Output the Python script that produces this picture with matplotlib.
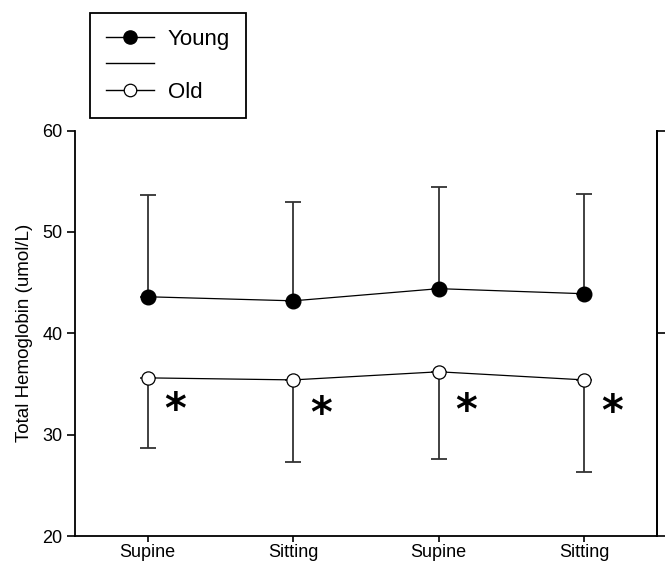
import numpy as np
import matplotlib.pyplot as plt
from matplotlib.lines import Line2D

plt.rcParams['font.family'] = ['Liberation Sans', 'DejaVu Sans']

categories = ['Supine', 'Sitting', 'Supine', 'Sitting']
young = [43.6, 43.2, 44.4, 43.9]
young_err = [10.0, 9.7, 10.0, 9.8]
old = [35.6, 35.4, 36.2, 35.4]
old_err = [6.9, 8.1, 8.6, 9.1]
star_y = [32.3, 31.9, 32.2, 32.1]

x = np.arange(1, len(categories) + 1)

fig = plt.figure(figsize=(6.68, 5.65), dpi=100)
ax = fig.add_axes([0.1123, 0.0513, 0.8712, 0.7177])

ecol = '#333333'
# error bars (young up, old down)
ax.errorbar(x, young, yerr=[np.zeros(4), young_err], fmt='none',
            ecolor=ecol, elinewidth=1.3, capsize=5.5, capthick=1.3, zorder=2)
ax.errorbar(x, old, yerr=[old_err, np.zeros(4)], fmt='none',
            ecolor=ecol, elinewidth=1.3, capsize=5.5, capthick=1.3, zorder=2)

ax.plot(x, young, '-', color='black', lw=0.9, zorder=3)
ax.plot(x, young, 'o', color='black', ms=10.5, zorder=4)
ax.plot(x, old, '-', color='black', lw=0.9, zorder=3)
ax.plot(x, old, 'o', mfc='white', mec='black', mew=0.9, ms=9.5, zorder=4)

for xi, yi in zip(x, star_y):
    ax.text(xi + 0.19, yi, '*', fontsize=30, fontweight='bold',
            ha='center', va='center', family='DejaVu Sans')

ax.set_xlim(0.5, 4.5)
ax.set_ylim(20, 60)
ax.set_xticks(x)
ax.set_xticklabels(categories, fontsize=13)
ax.set_yticks([20, 30, 40, 50, 60])
ax.tick_params(axis='y', direction='out', length=6, width=1.2, labelsize=13, pad=3)
ax.tick_params(axis='x', direction='out', length=4, width=1.2, pad=2)
ax.set_ylabel('Total Hemoglobin (umol/L)', fontsize=13.5, labelpad=7)
for s in ['left', 'bottom', 'right']:
    ax.spines[s].set_linewidth(1.3)
ax.spines['top'].set_visible(False)

ax2 = ax.twinx()
ax2.set_ylim(20, 60)
ax2.set_yticks([20, 40, 60])
ax2.set_yticklabels([])
ax2.tick_params(axis='y', direction='out', length=6, width=1.2)
for s in ['left', 'bottom', 'top']:
    ax2.spines[s].set_visible(False)
ax2.spines['right'].set_linewidth(1.3)

handles = [
    Line2D([], [], color='black', lw=1, marker='o', ms=9.5, mfc='black'),
    Line2D([], [], color='black', lw=1),
    Line2D([], [], color='black', lw=1, marker='o', ms=9, mfc='white', mew=0.9),
]
leg = fig.legend(handles, ['Young', '', 'Old'], loc='upper left',
                 bbox_to_anchor=(90 / 668, 1 - 13 / 565), borderaxespad=0,
                 fancybox=False, edgecolor='black', fontsize=16,
                 handlelength=2.2, handletextpad=0.6, labelspacing=0.25,
                 borderpad=0.7, framealpha=1)
leg.get_frame().set_linewidth(1.3)

fig.savefig('out.png', dpi=100)
